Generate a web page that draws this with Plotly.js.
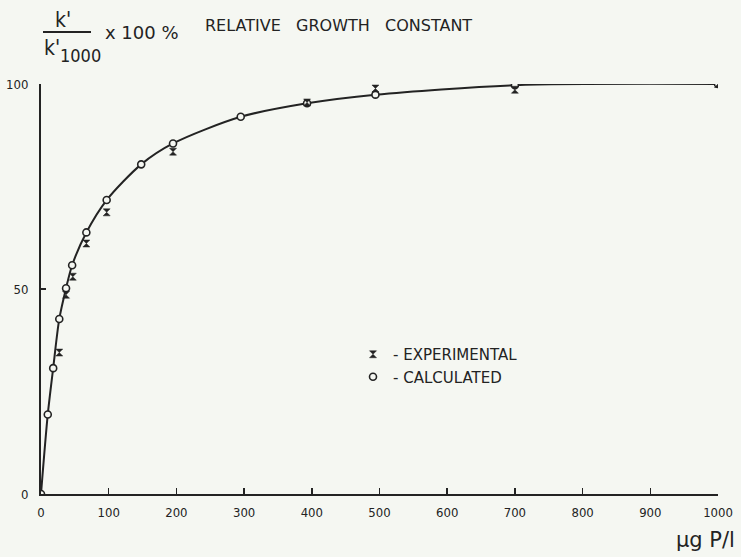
<!DOCTYPE html>
<html>
<head>
<meta charset="utf-8">
<script src="https://cdn.plot.ly/plotly-3.0.1.min.js"></script>
<style>
  html, body { margin: 0; padding: 0; background: #f5f7f2; }
  #chart { width: 741px; height: 557px; }
</style>
</head>
<body>
<div id="chart"></div>
<script>
// Phosphorus concentration (µg P/l) and relative growth constant k'/k'1000 (%)
const calcP = [0, 10, 18, 27, 37, 46, 67, 97, 148, 195, 295, 393, 494, 700, 1000];
const calcK = [0, 19.4, 30.7, 42.7, 50.2, 55.8, 63.8, 71.7, 80.4, 85.5, 92.0, 95.3, 97.4, 99.7, 100];

const expP = [27, 37, 47, 67, 97, 195, 393, 494, 700, 1000];
const expK = [34.5, 48.6, 53.0, 61.1, 68.7, 83.5, 95.5, 98.9, 98.6, 100];

const xTicks = [0, 100, 200, 300, 400, 500, 600, 700, 800, 900, 1000];
const yTicks = [0, 50, 100];

const ink = '#232323';
const paper = '#f5f7f2';
const narrow = '"DejaVu Sans Condensed", "Liberation Sans Narrow", "DejaVu Sans", sans-serif';
const wide = '"DejaVu Sans", "Liberation Sans", sans-serif';

// plot frame in pixels, used to place the hand-lettered labels
const W = 741, H = 557;
const M = { l: 41, r: 23, t: 84, b: 63 };
const px = x => (x - M.l) / (W - M.l - M.r);
const py = y => (H - M.b - y) / (H - M.t - M.b);

const traces = [
  {
    x: calcP, y: calcK, mode: 'lines', showlegend: false, hoverinfo: 'skip',
    line: { color: ink, width: 2, shape: 'spline', smoothing: 0.8 }
  },
  {
    x: calcP, y: calcK, mode: 'markers', name: '- CALCULATED', legendrank: 2,
    marker: { symbol: 'circle', size: 7, color: paper, line: { color: ink, width: 1.6 } }
  },
  {
    x: expP, y: expK, mode: 'markers', name: '- EXPERIMENTAL', legendrank: 1,
    marker: { symbol: 'hourglass', size: 7, color: ink, line: { color: ink, width: 0.5 } }
  }
];

const axisCommon = {
  showgrid: false, zeroline: false, showline: true,
  linecolor: ink, linewidth: 2,
  ticks: 'inside', tickcolor: ink, tickwidth: 1.5,
  tickfont: { family: narrow, size: 13, color: ink }
};

const layout = {
  width: W, height: H,
  margin: M,
  paper_bgcolor: paper, plot_bgcolor: paper,
  showlegend: true,
  legend: {
    x: px(353), y: py(338), xanchor: 'left', yanchor: 'top',
    bgcolor: 'rgba(0,0,0,0)', tracegroupgap: 0,
    font: { family: wide, size: 15, color: ink }
  },
  title: {
    text: 'RELATIVE   GROWTH   CONSTANT',
    x: 205 / W, xanchor: 'left', xref: 'container',
    y: 1 - 25 / H, yanchor: 'middle', yref: 'container',
    font: { family: wide, size: 16, color: ink }
  },
  xaxis: Object.assign({}, axisCommon, {
    range: [0, 1000], tickvals: xTicks, ticktext: xTicks.map(String),
    ticklen: 6, ticklabelstandoff: 5
  }),
  yaxis: Object.assign({}, axisCommon, {
    range: [0, 100], tickvals: yTicks, ticktext: yTicks.map(String),
    ticklen: 5, ticklabelstandoff: 8
  }),
  shapes: [
    { type: 'line', xref: 'paper', yref: 'paper',
      x0: px(43), x1: px(91), y0: py(32), y1: py(32),
      line: { color: ink, width: 1.8 } }
  ],
  annotations: [
    { text: "k'", xref: 'paper', yref: 'paper', x: px(63), y: py(20),
      xanchor: 'center', yanchor: 'middle', showarrow: false,
      font: { family: narrow, size: 21, color: ink } },
    { text: "k'", xref: 'paper', yref: 'paper', x: px(43), y: py(48),
      xanchor: 'left', yanchor: 'middle', showarrow: false, borderpad: 0,
      font: { family: narrow, size: 21, color: ink } },
    { text: '1000', xref: 'paper', yref: 'paper', x: px(59), y: py(56),
      xanchor: 'left', yanchor: 'middle', showarrow: false, borderpad: 0,
      font: { family: narrow, size: 18, color: ink } },
    { text: 'x 100 %', xref: 'paper', yref: 'paper', x: px(103), y: py(32),
      xanchor: 'left', yanchor: 'middle', showarrow: false,
      font: { family: wide, size: 18, color: ink } },
    { text: 'µg P/l', xref: 'paper', yref: 'paper', x: px(737), y: py(540),
      xanchor: 'right', yanchor: 'middle', showarrow: false,
      font: { family: wide, size: 21, color: ink } }
  ]
};

Plotly.newPlot('chart', traces, layout, { displayModeBar: false, staticPlot: true });
</script>
</body>
</html>
